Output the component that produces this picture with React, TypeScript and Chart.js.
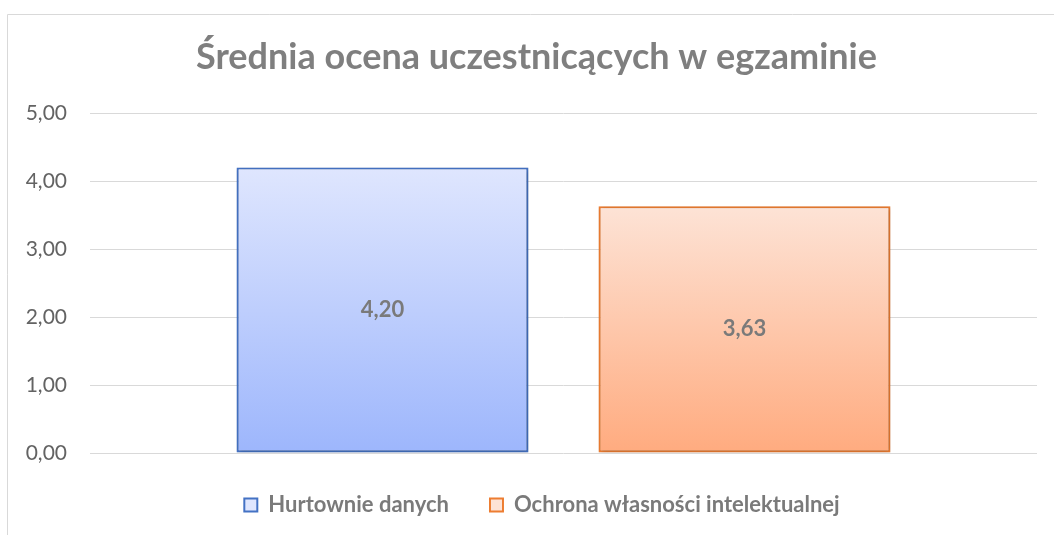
import React, { useEffect, useRef } from "react";
import { Chart, registerables } from "chart.js";

Chart.register(...registerables);

const categories = [""];
const seriesNames = ["Hurtownie danych", "Ochrona własności intelektualnej"];
const seriesValues = [[4.2], [3.63]];
const yTicks = [0, 1, 2, 3, 4, 5];
const titleText = "Średnia ocena uczestnicących w egzaminie";

const fmt = (v: number) => v.toFixed(2).replace(".", ",");

const gradStops = [
  ["#dfe6fe", "#9db6fc"],
  ["#fde3d6", "#ffab7f"],
];
const borders = ["#4472c4", "#ed7d31"];

export default function App() {
  const ref = useRef<HTMLCanvasElement | null>(null);
  useEffect(() => {
    if (!ref.current) return;
    const makeGrad = (i: number) => (c: any) => {
      const chart = c.chart;
      const y = chart.scales?.y;
      if (!y || !chart.chartArea) return gradStops[i][1];
      const v = seriesValues[i][c.dataIndex ?? 0];
      const top = y.getPixelForValue(v);
      const bot = y.getPixelForValue(0);
      const g = chart.ctx.createLinearGradient(0, top, 0, bot);
      g.addColorStop(0, gradStops[i][0]);
      g.addColorStop(1, gradStops[i][1]);
      return g;
    };

    const framePlugin = {
      id: "frame",
      afterLayout(chart: any) {
        if (chart.titleBlock) {
          chart.titleBlock.left += 18;
          chart.titleBlock.right += 18;
        }
        if (chart.legend) {
          chart.legend.left += 23.5;
          chart.legend.right += 23.5;
        }
      },
      beforeDraw(chart: any) {
        const ctx = chart.ctx;
        ctx.save();
        ctx.strokeStyle = "#d9d9d9";
        ctx.lineWidth = 1;
        ctx.beginPath();
        ctx.moveTo(7.5, 535);
        ctx.lineTo(7.5, 14.5);
        ctx.lineTo(1054, 14.5);
        ctx.stroke();
        ctx.restore();
      },
      beforeDatasetDraw(chart: any) {
        const ctx = chart.ctx;
        ctx.save();
        ctx.shadowColor = "rgba(0,0,0,0.25)";
        ctx.shadowBlur = 4;
        ctx.shadowOffsetX = 1;
        ctx.shadowOffsetY = 1;
      },
      afterDatasetDraw(chart: any) {
        chart.ctx.restore();
      },
      afterDatasetsDraw(chart: any) {
        const ctx = chart.ctx;
        ctx.save();
        ctx.font = "bold 22px Lato";
        ctx.fillStyle = "#7a7a7a";
        ctx.textAlign = "center";
        ctx.textBaseline = "middle";
        chart.data.datasets.forEach((ds: any, di: number) => {
          const meta = chart.getDatasetMeta(di);
          meta.data.forEach((el: any, i: number) => {
            ctx.fillText(fmt(ds.data[i]), el.x, (el.y + el.base) / 2);
          });
        });
        ctx.restore();
      },
    };

    const chart = new Chart(ref.current, {
      type: "bar",
      data: {
        labels: categories,
        datasets: seriesNames.map((name, i) => ({
          label: name,
          data: seriesValues[i],
          backgroundColor: makeGrad(i),
          borderColor: borders[i],
          borderWidth: 2.2,
          borderSkipped: false,
        })),
      },
      options: {
        animation: false,
        responsive: false,
        maintainAspectRatio: false,
        layout: { padding: { left: 0, right: 17, top: 14, bottom: 9 } },
        datasets: {
          bar: { categoryPercentage: 0.7645, barPercentage: 0.8066 },
        } as any,
        scales: {
          x: { display: false },
          y: {
            min: 0,
            max: 5,
            afterFit: (s: any) => {
              s.width = 90;
            },
            afterBuildTicks: (s: any) => {
              s.ticks = yTicks.map((v) => ({ value: v }));
            },
            border: { display: false },
            grid: { color: "#d9d9d9", lineWidth: 1, drawTicks: false },
            ticks: {
              padding: 23,
              color: "#636363",
              font: { family: "Lato", size: 21 },
              callback: (v: any) => fmt(Number(v)),
            },
          } as any,
        },
        plugins: {
          title: {
            display: true,
            text: titleText,
            color: "#7f7f7f",
            font: { family: "Lato", size: 36, weight: "bold" },
            padding: { top: 21.4, bottom: 34.4 },
          },
          legend: {
            position: "bottom",
            labels: {
              boxWidth: 13,
              boxHeight: 13,
              padding: 41,
              color: "#7a7a7a",
              font: { family: "Lato", size: 22, weight: "bold" },
              generateLabels: (chart: any) =>
                chart.data.datasets.map((ds: any, i: number) => ({
                  text: ds.label,
                  fillStyle: gradStops[i][0],
                  strokeStyle: borders[i],
                  lineWidth: 2,
                  datasetIndex: i,
                  fontColor: "#7a7a7a",
                })),
            },
          },
          tooltip: { enabled: false },
        },
      },
      plugins: [framePlugin],
    });
    return () => chart.destroy();
  }, []);
  return (
    <div style={{ position: "fixed", left: 0, top: 0, width: 1054, height: 535, background: "#fff" }}>
      <canvas ref={ref} width={1054} height={535} />
    </div>
  );
}
